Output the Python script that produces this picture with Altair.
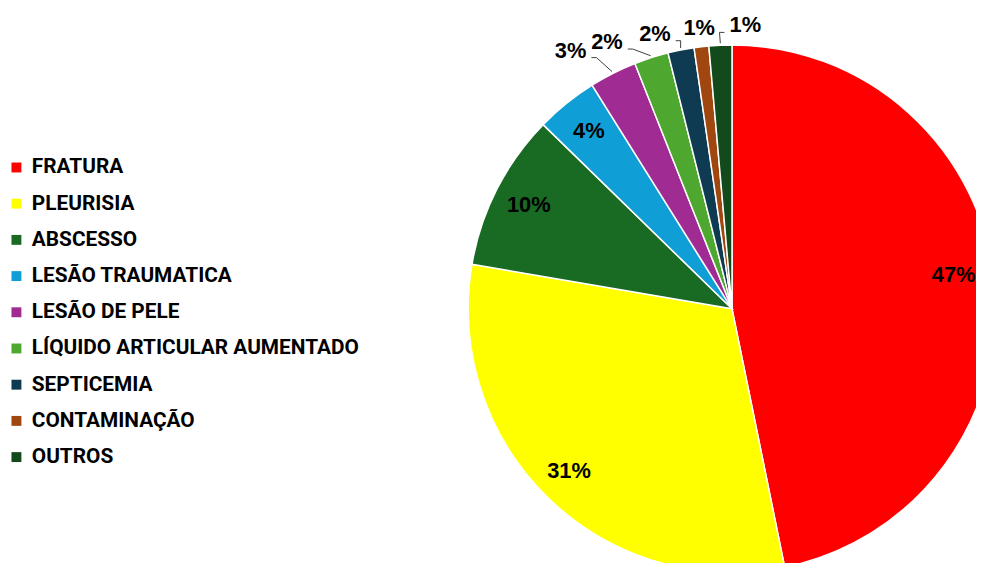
import math
import altair as alt
import pandas as pd

categories = ["FRATURA", "PLEURISIA", "ABSCESSO", "LESÃO TRAUMATICA", "LESÃO DE PELE",
              "LÍQUIDO ARTICULAR AUMENTADO", "SEPTICEMIA", "CONTAMINAÇÃO", "OUTROS"]
values = [46.8, 30.9, 9.6, 3.8, 2.9, 2.1, 1.6, 0.9, 1.4]
labels = ["47%", "31%", "10%", "4%", "3%", "2%", "2%", "1%", "1%"]
colors = ["#FF0000", "#FFFF00", "#196B24", "#0F9ED5", "#A02B93", "#4EA72E",
          "#0E3A52", "#A0460F", "#134A1C"]

# layout constants
CX, CY, R = 730, 301, 266
n_inside = 4
label_nudge = [-2.8, 1.0, 0, 0, -5.2, -7.3, -4.5, 0.0, 5.2]
label_r = [226, 232, 230, 230, 307, 297, 288, 285, 286]
FONT_LBL = "Liberation Sans"
FONT_LEG = "Roboto"

total = sum(values)
rows, lab_rows, line_rows = [], [], []
cum = 0.0
for i, (c, v, l) in enumerate(zip(categories, values, labels)):
    mid = (cum + v / 2) / total * 360
    cum += v
    rows.append({"cat": c, "value": v, "idx": i})
    a = math.radians(mid + label_nudge[i])
    lx = CX + label_r[i] * math.sin(a)
    ly = CY - label_r[i] * math.cos(a)
    lab_rows.append({"lx": lx, "ly": ly, "txt": l})
    if i >= n_inside:
        m = math.radians(mid)
        px = CX + (R + 2) * math.sin(m)
        py = CY - (R + 2) * math.cos(m)
        if math.hypot(px - lx, py - ly) > 28:
            side = 1 if px > lx else -1
            Lx, Ly = lx + side * 21, ly + 7
            Ex = Lx + side * 5
            for s, (x, y) in enumerate([(Lx, Ly), (Ex, Ly), (px, py)]):
                line_rows.append({"cat": c, "seq": s, "x": x, "y": y})

df = pd.DataFrame(rows)
df_lab = pd.DataFrame(lab_rows)
df_line = pd.DataFrame(line_rows)

color_scale = alt.Scale(domain=categories, range=colors)

pie = alt.Chart(df).mark_arc(radius=R, stroke="white", strokeWidth=1.5).encode(
    theta=alt.Theta("value:Q", stack=True),
    color=alt.Color("cat:N", scale=color_scale, sort=categories,
                    legend=alt.Legend(title=None, orient="none", legendX=-2, legendY=148,
                                      symbolType="square", symbolSize=100,
                                      symbolStrokeWidth=0, labelFont=FONT_LEG,
                                      labelFontSize=21, labelFontWeight="bold",
                                      labelColor="#000000", rowPadding=14.5,
                                      labelOffset=5, labelLimit=500)),
    order=alt.Order("idx:Q"),
    x=alt.value(CX), y=alt.value(CY),
)

text = alt.Chart(df_lab).mark_text(font=FONT_LBL, fontSize=22, fontWeight="bold",
                                   color="black").encode(
    x=alt.X("lx:Q", scale=None), y=alt.Y("ly:Q", scale=None), text="txt:N")

leaders = alt.Chart(df_line).mark_line(color="#404040", strokeWidth=1).encode(
    x=alt.X("x:Q", scale=None), y=alt.Y("y:Q", scale=None),
    detail="cat:N", order="seq:Q")

chart = alt.layer(pie, leaders, text).properties(
    width=976, height=555, padding=0, autosize=alt.AutoSizeParams(type="none")
).configure_view(stroke=None)

chart.save("out.html", embed_options={"renderer": "svg", "actions": False})
